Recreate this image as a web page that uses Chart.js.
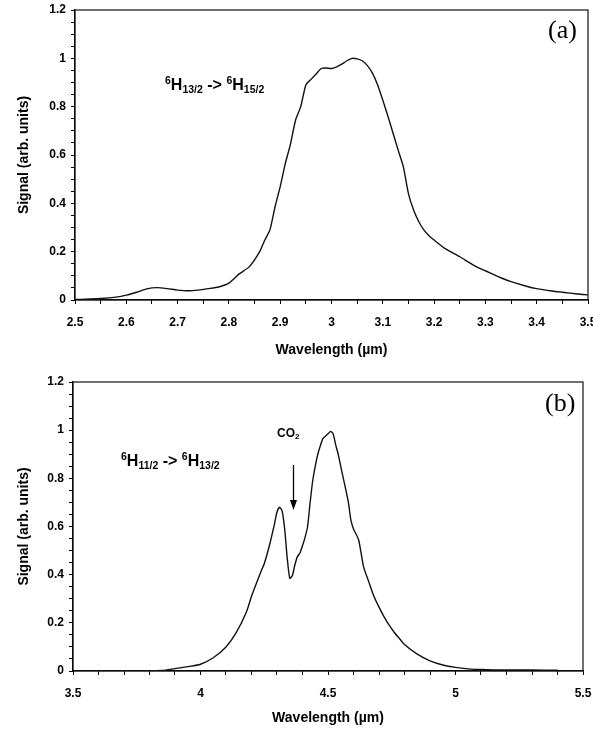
<!DOCTYPE html>
<html>
<head>
<meta charset="utf-8">
<script src="https://cdn.jsdelivr.net/npm/chart.js@4"></script>
<style>
  html, body { margin: 0; padding: 0; background: #fff; overflow: hidden; }
  body { width: 593px; height: 731px; position: relative; font-family: "Liberation Sans", Arial, sans-serif; }
  canvas { position: absolute; left: 0; }
  .ann { position: absolute; white-space: nowrap; color: #000; font-weight: bold; }
  .trans { font-size: 16px; line-height: 16px; }
  .trans .sp { position: relative; top: -6px; font-size: 10.5px; }
  .trans .sb { position: relative; top: 3px; font-size: 10.5px; }
  .panel { position: absolute; font-family: "Liberation Serif", "DejaVu Serif", serif; font-size: 26px; line-height: 26px; color: #000; }
  .co2 { font-size: 12px; line-height: 12px; }
  .co2 .sb { position: relative; top: 2px; font-size: 8px; }
</style>
</head>
<body>
<canvas id="chartA" width="593" height="365" style="top:0"></canvas>
<canvas id="chartB" width="593" height="366" style="top:365px"></canvas>

<div class="ann trans" style="left:165px; top:77px;"><span class="sp">6</span>H<span class="sb">13/2</span> -&gt; <span class="sp">6</span>H<span class="sb">15/2</span></div>
<div class="ann trans" style="left:121px; top:453px;"><span class="sp">6</span>H<span class="sb">11/2</span> -&gt; <span class="sp">6</span>H<span class="sb">13/2</span></div>
<div class="ann co2" style="left:277px; top:427px;">CO<span class="sb">2</span></div>
<svg style="position:absolute; left:286px; top:462px;" width="16" height="52">
  <line x1="7.5" y1="3" x2="7.5" y2="40" stroke="#000" stroke-width="1.3"/>
  <polygon points="4,38 11,38 7.5,48" fill="#000"/>
</svg>
<div class="panel" style="left:548px; top:17px;">(a)</div>
<div class="panel" style="left:545px; top:390px;">(b)</div>

<script>
// ---- Data ----
const waveA = [2.50,2.52,2.55,2.58,2.60,2.62,2.64,2.66,2.68,2.70,2.72,2.74,2.76,2.78,2.80,2.82,2.84,2.86,2.87,2.88,2.89,2.90,2.91,2.92,2.93,2.94,2.95,2.96,2.97,2.98,2.99,3.00,3.01,3.02,3.03,3.04,3.05,3.06,3.07,3.08,3.09,3.10,3.11,3.12,3.13,3.14,3.15,3.16,3.17,3.18,3.19,3.20,3.22,3.25,3.28,3.30,3.33,3.35,3.38,3.40,3.43,3.45,3.48,3.50];
const signalA = [0.002,0.003,0.006,0.012,0.020,0.032,0.046,0.051,0.047,0.041,0.038,0.041,0.047,0.054,0.070,0.108,0.138,0.200,0.248,0.290,0.386,0.469,0.565,0.645,0.745,0.800,0.890,0.913,0.935,0.958,0.960,0.958,0.965,0.976,0.990,1.000,0.998,0.990,0.970,0.938,0.890,0.827,0.760,0.690,0.620,0.552,0.440,0.372,0.325,0.290,0.266,0.248,0.215,0.179,0.140,0.121,0.092,0.076,0.057,0.047,0.037,0.032,0.025,0.021];

const waveB = [3.50,3.80,3.85,3.90,3.95,4.00,4.05,4.10,4.14,4.18,4.20,4.22,4.24,4.25,4.27,4.29,4.30,4.31,4.32,4.33,4.34,4.35,4.36,4.37,4.38,4.39,4.40,4.41,4.42,4.43,4.44,4.45,4.46,4.47,4.48,4.49,4.50,4.51,4.52,4.53,4.54,4.55,4.56,4.57,4.58,4.59,4.60,4.62,4.64,4.66,4.68,4.70,4.72,4.74,4.76,4.78,4.80,4.85,4.90,4.95,5.00,5.05,5.10,5.20,5.30,5.40];
const signalB = [0.000,0.000,0.002,0.010,0.018,0.028,0.055,0.100,0.159,0.245,0.310,0.366,0.420,0.445,0.520,0.610,0.660,0.680,0.665,0.590,0.470,0.385,0.395,0.440,0.475,0.490,0.520,0.555,0.600,0.700,0.790,0.850,0.900,0.935,0.965,0.975,0.985,0.995,0.985,0.940,0.900,0.850,0.800,0.752,0.700,0.625,0.590,0.545,0.430,0.370,0.310,0.265,0.225,0.190,0.160,0.135,0.110,0.070,0.042,0.025,0.015,0.009,0.006,0.004,0.004,0.003];

const yTicksMajor = [0, 0.2, 0.4, 0.6, 0.8, 1, 1.2];
const xTicksMajorA = [2.5, 2.6, 2.7, 2.8, 2.9, 3, 3.1, 3.2, 3.3, 3.4, 3.5];
const xTicksMajorB = [3.5, 4, 4.5, 5, 5.5];

const tickFont = { family: "'Liberation Sans', Arial, sans-serif", size: 12, weight: 'bold' };
const titleFont = { family: "'Liberation Sans', Arial, sans-serif", size: 14, weight: 'bold' };

function labelFrom(list) {
  return function (v) {
    for (const m of list) if (Math.abs(v - m) < 1e-6) return String(m);
    return '';
  };
}

const boxPlugin = {
  id: 'box',
  afterDraw(chart) {
    const a = chart.chartArea, c = chart.ctx;
    c.save();
    c.strokeStyle = '#111';
    c.lineWidth = 1.2;
    c.strokeRect(a.left, a.top, a.right - a.left, a.bottom - a.top);
    c.restore();
  }
};

function makeChart(id, xs, ys, o) {
  const pts = xs.map((x, i) => ({ x: x, y: ys[i] }));
  return new Chart(document.getElementById(id), {
    type: 'scatter',
    data: { datasets: [{ data: pts, showLine: true, borderColor: '#111', borderWidth: 1.4, pointRadius: 0, tension: 0.2 }] },
    options: {
      responsive: false,
      animation: false,
      layout: { padding: o.padding },
      plugins: { legend: { display: false }, tooltip: { enabled: false } },
      scales: {
        x: {
          type: 'linear', min: o.xmin, max: o.xmax,
          afterFit: s => { s.height = o.xh; s.paddingLeft = 0; s.paddingRight = 0; },
          grid: { drawOnChartArea: false, drawTicks: true, tickLength: 4, color: '#000' },
          border: { display: true, color: '#000', width: 1.2 },
          ticks: { stepSize: o.xstep, autoSkip: false, maxRotation: 0, padding: 11, color: '#000', font: tickFont, callback: labelFrom(o.xmajor) },
          title: { display: true, text: 'Wavelength (µm)', color: '#000', font: titleFont, padding: o.xtp }
        },
        y: {
          type: 'linear', min: 0, max: 1.2,
          afterFit: s => { s.width = o.yw; s.paddingTop = 0; s.paddingBottom = 0; },
          grid: { drawOnChartArea: false, drawTicks: true, tickLength: 4, color: '#000' },
          border: { display: true, color: '#000', width: 1.2 },
          ticks: { stepSize: 0.05, autoSkip: false, padding: 5, color: '#000', font: tickFont, callback: labelFrom(yTicksMajor) },
          title: { display: true, text: 'Signal (arb. units)', color: '#000', font: titleFont, padding: { top: 16, bottom: 0 } }
        }
      }
    },
    plugins: [boxPlugin]
  });
}

makeChart('chartA', waveA, signalA, {
  xmin: 2.5, xmax: 3.5, xstep: 0.05, xmajor: xTicksMajorA,
  padding: { top: 10, left: 0, right: 5, bottom: 5 }, xh: 60, yw: 75, xtp: { top: 0, bottom: 1 }
});
makeChart('chartB', waveB, signalB, {
  xmin: 3.5, xmax: 5.5, xstep: 0.1, xmajor: xTicksMajorB,
  padding: { top: 17, left: 0, right: 10, bottom: 0 }, xh: 60, yw: 73, xtp: { top: 0, bottom: 4 }
});
</script>
</body>
</html>
